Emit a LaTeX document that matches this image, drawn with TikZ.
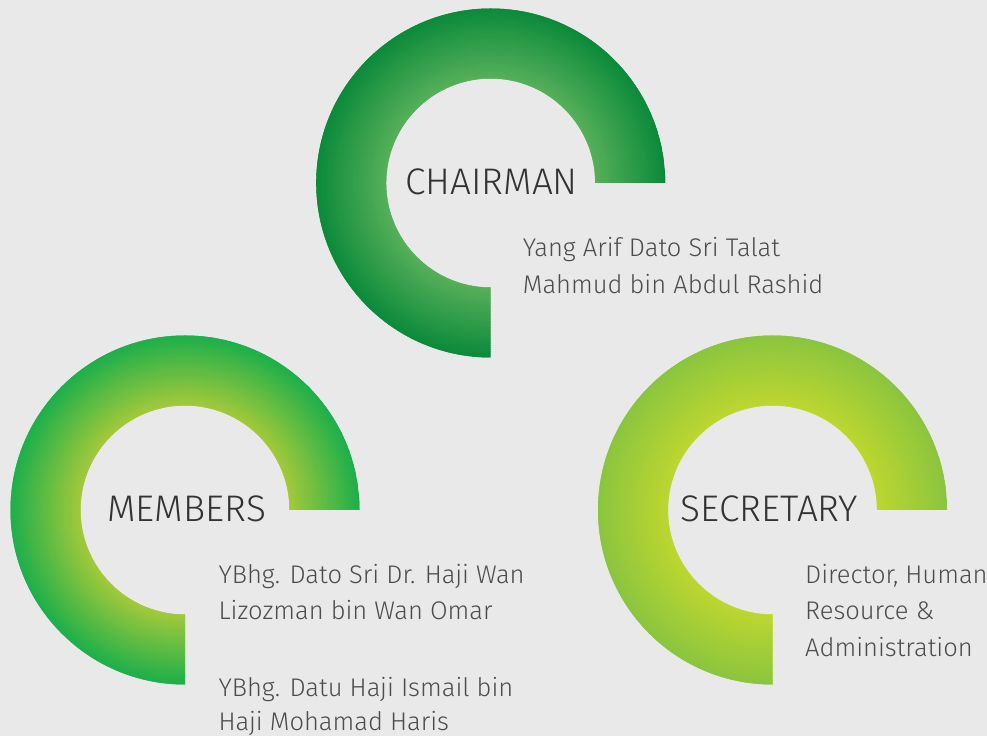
\documentclass[tikz,border=0pt]{standalone}
\usepackage{fontspec}
\IfFontExistsTF{Fira Sans Light}{\setmainfont{Fira Sans Light}}{\setmainfont{Fira Sans}}
\definecolor{bg}{HTML}{E9E9E9}
\definecolor{headcol}{HTML}{333333}
\definecolor{namecol}{HTML}{4D4D4D}
\definecolor{chairOut}{HTML}{0A8A3A}
\definecolor{chairIn}{HTML}{58B05A}
\definecolor{memOut}{HTML}{1BAF4B}
\definecolor{memIn}{HTML}{A6CA3A}
\definecolor{secOut}{HTML}{8AC53F}
\definecolor{secIn}{HTML}{BED72F}
\tikzset{
  headtxt/.style={anchor=base west, inner sep=0pt, text=headcol, font=\fontsize{37}{40}\selectfont},
  nametxt/.style={anchor=base west, inner sep=0pt, text=namecol, font=\fontsize{25.5}{37}\selectfont},
}
\newcommand{\ringshape}[5]{% cx, cy, inner colour, outer colour, name
  \begin{scope}
    \clip (#1+174.5,#2) arc[start angle=0,end angle=270,radius=174.5] -- (#1,#2-104.5) arc[start angle=270,end angle=0,radius=104.5] -- cycle;
    \foreach \i in {0,...,36}{
      \pgfmathsetmacro{\pct}{100-\i*100/36}
      \draw[line width=2.8pt, draw=#3!\pct!#4] (#1,#2) circle[radius=103.5+\i*2];
    }
  \end{scope}
  \coordinate (#5) at (#1,#2);
}
\begin{document}
\begin{tikzpicture}[x=1pt,y=1pt]
  \fill[bg] (0,0) rectangle (987,736);
  \useasboundingbox (0,0) rectangle (987,736);
  \ringshape{490.7}{553}{chairIn}{chairOut}{chairc}
  \ringshape{185}{226}{memIn}{memOut}{memc}
  \ringshape{772.5}{226}{secIn}{secOut}{secc}
  \node[headtxt] (chair) at (405,541) {CHAIRMAN};
  \node[nametxt] (chairnameA) at (522.7,479.3) {Yang Arif Dato Sri Talat};
  \node[nametxt] (chairnameB) at (522.7,442.7) {Mahmud bin Abdul Rashid};
  \node[headtxt] (mem) at (107.3,214.3) {MEMBERS};
  \node[nametxt] (memnameA) at (218.3,152.7) {YBhg. Dato Sri Dr. Haji Wan};
  \node[nametxt] (memnameB) at (218.3,116) {Lizozman bin Wan Omar};
  \node[nametxt] (memnameC) at (218.3,39.3) {YBhg. Datu Haji Ismail bin};
  \node[nametxt] (memnameD) at (218.3,6) {Haji Mohamad Haris};
  \node[headtxt] (sec) at (680.7,214.3) {SECRETARY};
  \node[nametxt] (secnameA) at (805,152.7) {Director, Human};
  \node[nametxt] (secnameB) at (805,116) {Resource \&};
  \node[nametxt] (secnameC) at (805,79.3) {Administration};
\end{tikzpicture}
\end{document}
